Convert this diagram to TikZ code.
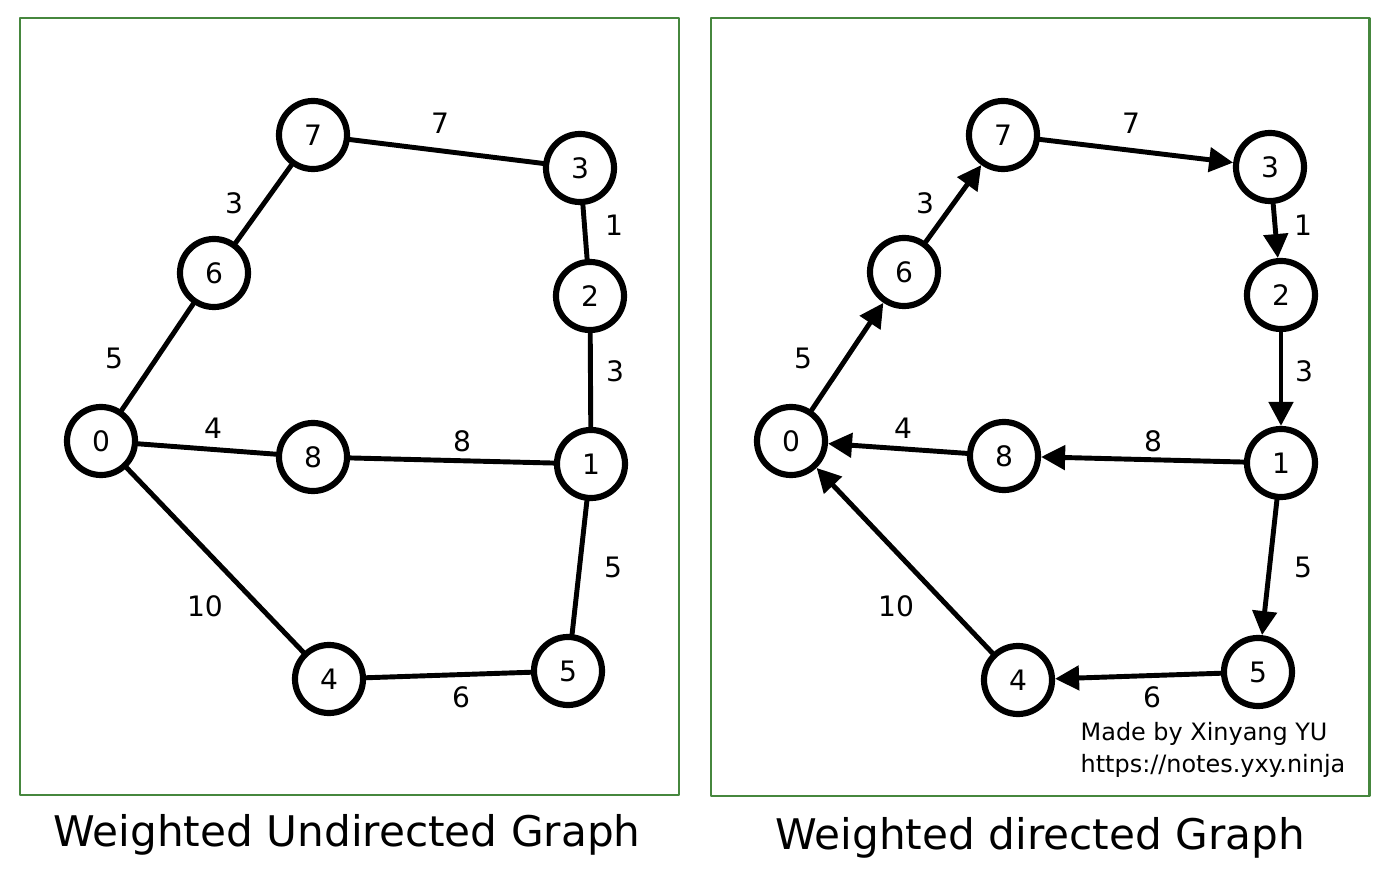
\documentclass[tikz,border=0pt]{standalone}
\usepackage{fontspec}
\setmainfont{DejaVu Sans}
\usetikzlibrary{arrows.meta}
\definecolor{framegreen}{RGB}{70,135,62}
\begin{document}
\begin{tikzpicture}[x=0.01cm,y=-0.01cm,line join=round,line cap=round,>={Triangle[length=0.24cm,width=0.24cm]},font=\fontsize{8}{9.5}\selectfont,
  vtx/.style={circle,draw,line width=1.75pt,minimum size=0.68cm,inner sep=0pt,fill=white},
  edge/.style={line width=1.4pt},
  frame/.style={draw=framegreen,line width=0.85pt},
  wt/.style={inner sep=1pt}]
\useasboundingbox (0,0) rectangle (1390,882);
\draw[frame] (20,18) rectangle (679,795);
\draw[frame] (711,18) rectangle (1369,796);
% undirected graph
\foreach \n/\x/\y in {7/313/135,3/580/168,6/214/273,2/590/296,0/101/441,8/313/457,1/591/464,4/329/679,5/568/671}
  {\node[vtx] (u\n) at (\x,\y) {\n};}
\foreach \a/\b in {0/6,6/7,7/3,3/2,2/1,1/8,8/0,1/5,5/4,4/0}
  {\draw[edge] (u\a) -- (u\b);}
\foreach \w/\x/\y [count=\i] in {7/440/123,3/234/203,1/614/225,5/114/358,3/615/371,4/213/428,8/462/441,5/613/567,10/205/606,6/461/697}
  {\node[wt] (uw\i) at (\x,\y) {\w};}
% directed graph
\foreach \n/\x/\y in {7/1003/135,3/1270/167,6/904/272,2/1281/295,0/791/441,8/1004/456,1/1281/463,4/1018/680,5/1258/672}
  {\node[vtx] (d\n) at (\x,\y) {\n};}
\foreach \a/\b in {0/6,6/7,7/3,3/2,2/1,1/8,8/0,1/5,5/4,4/0}
  {\draw[edge,->] (d\a) -- (d\b);}
\foreach \w/\x/\y [count=\i] in {7/1131/123,3/925/203,1/1303/225,5/803/358,3/1304/371,4/903/428,8/1153/441,5/1303/567,10/896/606,6/1152/697}
  {\node[wt] (dw\i) at (\x,\y) {\w};}
\node[anchor=north west,align=left,inner sep=0pt,font=\fontsize{6.8}{9}\selectfont] (credit) at (1080,722) {Made by Xinyang YU\\https://notes.yxy.ninja};
% titles
\node (utitle) at (347,835) {\fontsize{12}{14}\selectfont Weighted Undirected Graph};
\node (dtitle) at (1040,838) {\fontsize{12}{14}\selectfont Weighted directed Graph};
\end{tikzpicture}
\end{document}
